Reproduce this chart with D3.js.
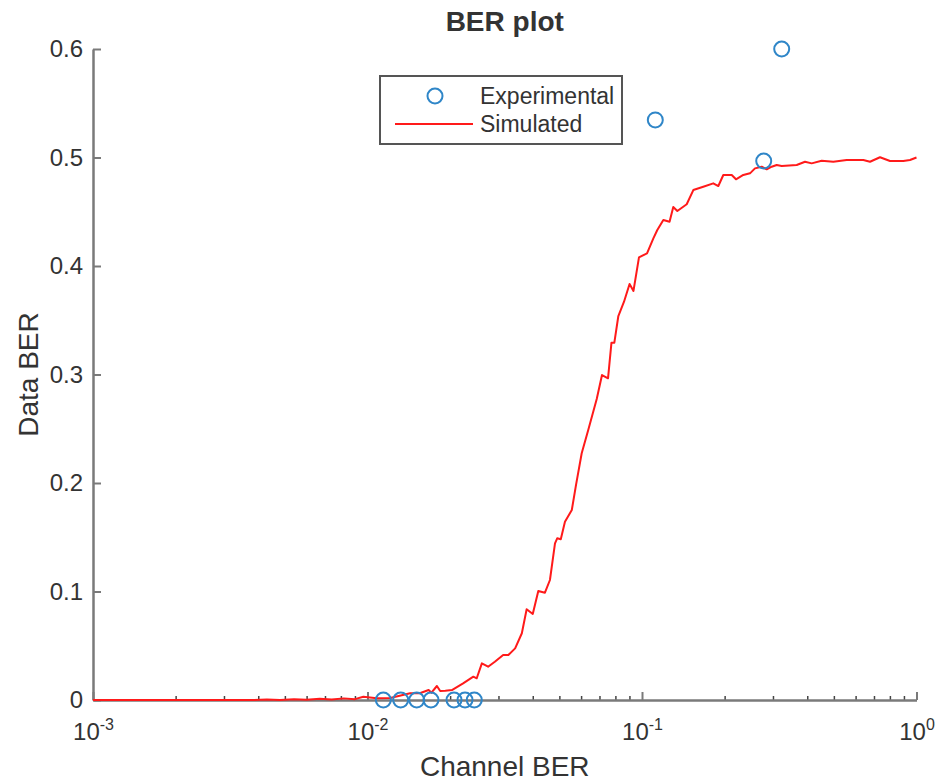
<!DOCTYPE html>
<html>
<head>
<meta charset="utf-8">
<script src="https://cdn.jsdelivr.net/npm/d3@7"></script>
<style>
  body { margin: 0; background: #fff; }
  text { font-family: "Liberation Sans", Arial, Helvetica, sans-serif; fill: #333; }
</style>
</head>
<body>
<svg id="chart" width="938" height="781"></svg>
<script>
// Simulated BER curve: channel BER (x) and resulting data BER (y)
const simChannelBER = [
  0.001, 0.0011, 0.00125, 0.0014, 0.0016, 0.0018, 0.002, 0.0023, 0.0026, 0.003,
  0.0034, 0.0038, 0.0043, 0.0048, 0.0054, 0.006, 0.0067, 0.0074, 0.0082, 0.009,
  0.00966, 0.0108, 0.0121, 0.0143, 0.0155, 0.0167, 0.0171, 0.0179, 0.0184, 0.0192,
  0.0203, 0.0223, 0.0243, 0.0250, 0.0261, 0.0275, 0.0291, 0.0312, 0.0326, 0.0345,
  0.0365, 0.0380, 0.0400, 0.0419, 0.0443, 0.0462, 0.0482, 0.0491, 0.0506, 0.0524,
  0.0555, 0.0575, 0.0603, 0.0637, 0.0684, 0.0715, 0.0752, 0.0774, 0.0793, 0.0820,
  0.0860, 0.0901, 0.0931, 0.0975, 0.1043, 0.1100, 0.1137, 0.1196, 0.1260, 0.1300,
  0.1345, 0.1455, 0.1538, 0.1672, 0.1818, 0.1897, 0.1978, 0.2123, 0.2200, 0.2339,
  0.2474, 0.2580, 0.2729, 0.2846, 0.2968, 0.3095, 0.3228, 0.3661, 0.3925, 0.4151,
  0.4514, 0.4977, 0.5568, 0.6402, 0.6772, 0.7362, 0.8009, 0.8952, 0.9469, 1.0
];
const simDataBER = [
  0, 0, 0, 0, 0, 0, 0, 0, 0, 0,
  0, 0, 0.0004, 0, 0.0006, 0.0003, 0.0012, 0.0005, 0.0015, 0.0008,
  0.0030, 0.0016, 0.0018, 0.0062, 0.0062, 0.0092, 0.0067, 0.0129, 0.0083, 0.0086,
  0.0092, 0.0154, 0.0215, 0.0200, 0.0338, 0.0307, 0.0353, 0.0415, 0.0415, 0.0476,
  0.0615, 0.0836, 0.0793, 0.1005, 0.0989, 0.1106, 0.1444, 0.1490, 0.1481, 0.1643,
  0.1751, 0.1982, 0.2274, 0.2488, 0.2774, 0.2995, 0.2965, 0.3293, 0.3293, 0.3539,
  0.3671, 0.3834, 0.3770, 0.4080, 0.4117, 0.4255, 0.4332, 0.4424, 0.4408, 0.4544,
  0.4507, 0.4569, 0.4700, 0.4731, 0.4762, 0.4737, 0.4839, 0.4839, 0.4799, 0.4839,
  0.4854, 0.4900, 0.4915, 0.4891, 0.4915, 0.4931, 0.4922, 0.4931, 0.4961, 0.4946,
  0.4970, 0.4961, 0.4977, 0.4977, 0.4961, 0.5002, 0.4968, 0.4968, 0.4977, 0.5000
];

// Measured points
const expChannelBER = [0.01142, 0.01321, 0.01511, 0.01703, 0.02066, 0.02266, 0.02449, 0.1118, 0.2776, 0.3228];
const expDataBER    = [0, 0, 0, 0, 0, 0, 0, 0.5346, 0.4968, 0.6];

// Axis ticks
const xTickExponents = [-3, -2, -1, 0];
const yTickValues = [0, 0.1, 0.2, 0.3, 0.4, 0.5, 0.6];

const seriesNames = ["Experimental", "Simulated"];
const titleText = "BER plot";
const xLabel = "Channel BER";
const yLabel = "Data BER";

const svg = d3.select("#chart");
const plotLeft = 93, plotRight = 916.5, plotTop = 49, plotBottom = 700;

const x = d3.scaleLog().domain([1e-3, 1]).range([plotLeft, plotRight]);
const y = d3.scaleLinear().domain([0, 0.6]).range([plotBottom, plotTop]);

const axisColor = "#7a7a7a";
const markerColor = "#2f86c8";
const lineColor = "#ff1a1a";

// Minor ticks on the log axis
const minorTicks = [];
xTickExponents.slice(0, -1).forEach(e => {
  for (let k = 2; k <= 9; k++) minorTicks.push(k * Math.pow(10, e));
});

const xMinor = svg.append("g")
  .attr("transform", `translate(0,${plotBottom})`)
  .call(d3.axisBottom(x).tickValues(minorTicks).tickSizeInner(-4).tickSizeOuter(0).tickFormat(""));
xMinor.select(".domain").remove();
xMinor.selectAll(".tick line").attr("stroke", "#444").attr("stroke-width", 1.5);

const xAxis = svg.append("g")
  .attr("transform", `translate(0,${plotBottom})`)
  .call(d3.axisBottom(x)
    .tickValues(xTickExponents.map(e => Math.pow(10, e)))
    .tickSizeInner(-8).tickSizeOuter(0).tickPadding(23));
xAxis.select(".domain").attr("stroke", axisColor).attr("stroke-width", 2.5);
xAxis.selectAll(".tick line").attr("stroke", axisColor).attr("stroke-width", 2);
xAxis.selectAll(".tick text").each(function (d) {
  const t = d3.select(this);
  t.text(null).attr("font-size", 24).attr("fill", "#333");
  t.append("tspan").text("10");
  t.append("tspan").attr("dy", -10).attr("font-size", 16).text(String(Math.round(Math.log10(d))));
});

const yAxis = svg.append("g")
  .attr("transform", `translate(${plotLeft},0)`)
  .call(d3.axisLeft(y).tickValues(yTickValues).tickSizeInner(-8).tickSizeOuter(0)
    .tickPadding(10).tickFormat(d3.format("")));
yAxis.select(".domain").attr("stroke", axisColor).attr("stroke-width", 2.5);
yAxis.selectAll(".tick line").attr("stroke", axisColor).attr("stroke-width", 2);
yAxis.selectAll(".tick text").attr("font-size", 24).attr("fill", "#333");

// Simulated curve
const simPoints = simChannelBER.map((c, i) => [c, simDataBER[i]]);
svg.append("path")
  .datum(simPoints)
  .attr("fill", "none")
  .attr("stroke", lineColor)
  .attr("stroke-width", 2)
  .attr("stroke-linejoin", "round")
  .attr("d", d3.line().x(d => x(d[0])).y(d => y(d[1])));

// Experimental markers
svg.append("g").selectAll("circle")
  .data(expChannelBER.map((c, i) => [c, expDataBER[i]]))
  .join("circle")
  .attr("cx", d => x(d[0]))
  .attr("cy", d => y(d[1]))
  .attr("r", 7.5)
  .attr("fill", "none")
  .attr("stroke", markerColor)
  .attr("stroke-width", 2);

// Title and axis labels
svg.append("text")
  .attr("x", (plotLeft + plotRight) / 2).attr("y", 31)
  .attr("text-anchor", "middle")
  .attr("font-size", 28).attr("font-weight", "bold").attr("fill", "#111")
  .text(titleText);

svg.append("text")
  .attr("x", (plotLeft + plotRight) / 2).attr("y", 776)
  .attr("text-anchor", "middle")
  .attr("font-size", 28)
  .text(xLabel);

svg.append("text")
  .attr("transform", `translate(38,${(plotTop + plotBottom) / 2}) rotate(-90)`)
  .attr("text-anchor", "middle")
  .attr("font-size", 28)
  .text(yLabel);

// Legend
const legend = svg.append("g");
legend.append("rect")
  .attr("x", 380).attr("y", 76).attr("width", 242).attr("height", 68)
  .attr("fill", "#fff").attr("stroke", "#555").attr("stroke-width", 2);
legend.append("circle")
  .attr("cx", 435).attr("cy", 96).attr("r", 7.5)
  .attr("fill", "none").attr("stroke", markerColor).attr("stroke-width", 2);
legend.append("line")
  .attr("x1", 395).attr("x2", 473).attr("y1", 124).attr("y2", 124)
  .attr("stroke", lineColor).attr("stroke-width", 2);
legend.selectAll("text.entry")
  .data(seriesNames)
  .join("text")
  .attr("class", "entry")
  .attr("x", 480)
  .attr("y", (d, i) => 104 + i * 28)
  .attr("font-size", 23)
  .attr("fill", "#222")
  .text(d => d);
</script>
</body>
</html>
